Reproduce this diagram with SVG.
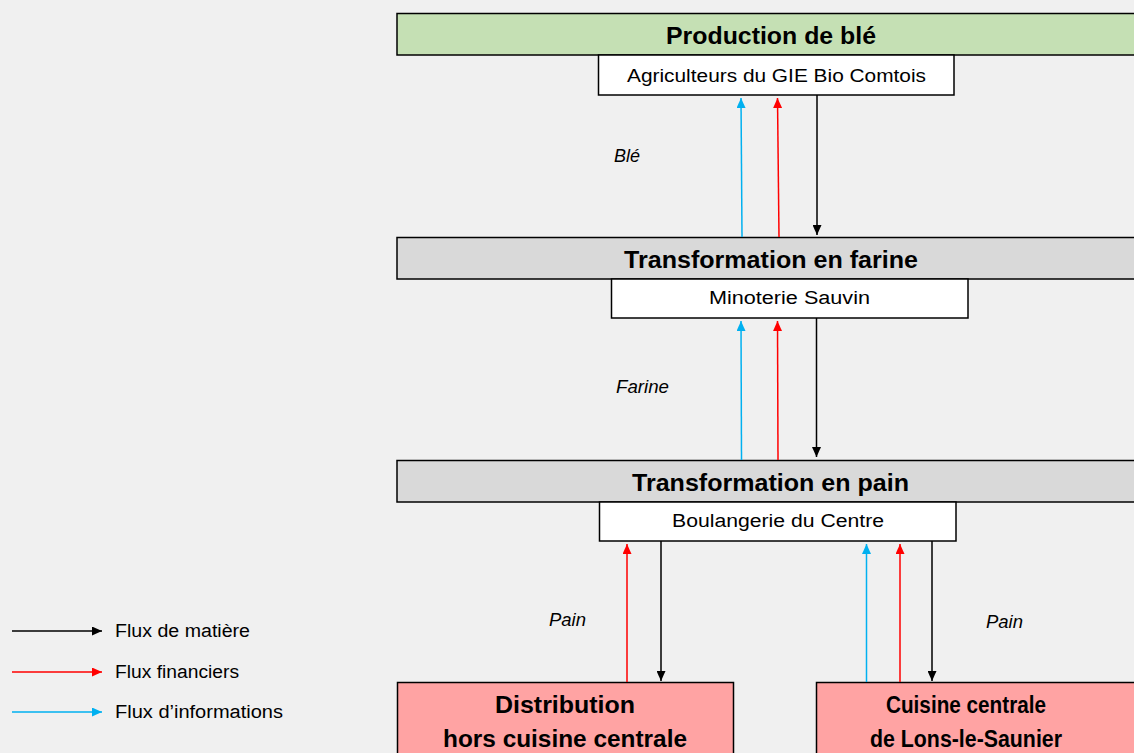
<svg xmlns="http://www.w3.org/2000/svg" width="1134" height="753" viewBox="0 0 1134 753">
<style>
.hdr{font-family:"Liberation Sans",Arial,sans-serif;font-weight:bold;font-size:23px;fill:#000;text-anchor:middle}
.sub{font-family:"Liberation Sans",Arial,sans-serif;font-size:18px;fill:#000;text-anchor:middle}
.lbl{font-family:"Liberation Sans",Arial,sans-serif;font-style:italic;font-size:18px;fill:#000}
.leg{font-family:"Liberation Sans",Arial,sans-serif;font-size:18px;fill:#000}
.box{stroke:#000;stroke-width:1.5}
.blk{stroke:#000;stroke-width:1.5;fill:none}
.red{stroke:#FF0000;stroke-width:1.5;fill:none}
.blu{stroke:#00B0F0;stroke-width:1.5;fill:none}
</style>
<defs>
<marker id="mb" viewBox="0 0 10 10" refX="10" refY="5" markerWidth="10" markerHeight="9" markerUnits="userSpaceOnUse" orient="auto" preserveAspectRatio="none"><path d="M0,0 L10,5 L0,10 Z" fill="#000"/></marker>
<marker id="mr" viewBox="0 0 10 10" refX="10" refY="5" markerWidth="10" markerHeight="9" markerUnits="userSpaceOnUse" orient="auto" preserveAspectRatio="none"><path d="M0,0 L10,5 L0,10 Z" fill="#FF0000"/></marker>
<marker id="mu" viewBox="0 0 10 10" refX="10" refY="5" markerWidth="10" markerHeight="9" markerUnits="userSpaceOnUse" orient="auto" preserveAspectRatio="none"><path d="M0,0 L10,5 L0,10 Z" fill="#00B0F0"/></marker>
</defs>
<rect width="1134" height="753" fill="#F0F0F0"/>

<g id="production">
<rect class="box" x="397" y="13.5" width="745" height="41.5" fill="#C5E0B4"/>
<text class="hdr" x="771" y="44" textLength="210" lengthAdjust="spacingAndGlyphs">Production de blé</text>
<rect class="box" x="598.5" y="55" width="355.5" height="40" fill="#FFFFFF"/>
<text class="sub" x="776.5" y="82" textLength="299" lengthAdjust="spacingAndGlyphs">Agriculteurs du GIE Bio Comtois</text>
</g>

<g id="farine">
<rect class="box" x="397" y="237.5" width="745" height="41.5" fill="#D9D9D9"/>
<text class="hdr" x="771" y="268" textLength="294" lengthAdjust="spacingAndGlyphs">Transformation en farine</text>
<rect class="box" x="611.5" y="279" width="356.5" height="39" fill="#FFFFFF"/>
<text class="sub" x="789.5" y="304" textLength="161" lengthAdjust="spacingAndGlyphs">Minoterie Sauvin</text>
</g>

<g id="pain">
<rect class="box" x="397" y="460.5" width="745" height="41.5" fill="#D9D9D9"/>
<text class="hdr" x="770.5" y="491" textLength="277" lengthAdjust="spacingAndGlyphs">Transformation en pain</text>
<rect class="box" x="599.5" y="502" width="356.5" height="39" fill="#FFFFFF"/>
<text class="sub" x="778" y="527" textLength="212" lengthAdjust="spacingAndGlyphs">Boulangerie du Centre</text>
</g>

<g id="distribution">
<rect class="box" x="397.5" y="682.5" width="336" height="80" fill="#FFA3A3"/>
<text class="hdr" x="565" y="713" textLength="140" lengthAdjust="spacingAndGlyphs">Distribution</text>
<text class="hdr" x="565" y="747" textLength="244" lengthAdjust="spacingAndGlyphs">hors cuisine centrale</text>
</g>

<g id="cuisine">
<rect class="box" x="816.5" y="682.5" width="330" height="80" fill="#FFA3A3"/>
<text class="hdr" x="966" y="713" textLength="160" lengthAdjust="spacingAndGlyphs">Cuisine centrale</text>
<text class="hdr" x="966" y="747" textLength="192" lengthAdjust="spacingAndGlyphs">de Lons-le-Saunier</text>
</g>

<g id="connectors">
<line class="blu" x1="742" y1="237" x2="741" y2="98" marker-end="url(#mu)"/>
<line class="red" x1="779" y1="237" x2="777.5" y2="98" marker-end="url(#mr)"/>
<line class="blk" x1="817" y1="95" x2="817" y2="235" marker-end="url(#mb)"/>

<line class="blu" x1="741.5" y1="460" x2="741" y2="321" marker-end="url(#mu)"/>
<line class="red" x1="778" y1="460" x2="777.5" y2="321" marker-end="url(#mr)"/>
<line class="blk" x1="816.5" y1="318" x2="816.5" y2="457" marker-end="url(#mb)"/>

<line class="red" x1="627" y1="682" x2="627" y2="544" marker-end="url(#mr)"/>
<line class="blk" x1="661" y1="541" x2="661" y2="681" marker-end="url(#mb)"/>
<line class="blu" x1="866.5" y1="682" x2="866.5" y2="544" marker-end="url(#mu)"/>
<line class="red" x1="900" y1="682" x2="900" y2="544" marker-end="url(#mr)"/>
<line class="blk" x1="932" y1="541" x2="932" y2="681" marker-end="url(#mb)"/>

<text class="lbl" x="614" y="162" textLength="26" lengthAdjust="spacingAndGlyphs">Blé</text>
<text class="lbl" x="616" y="393" textLength="53" lengthAdjust="spacingAndGlyphs">Farine</text>
<text class="lbl" x="549" y="626" textLength="37" lengthAdjust="spacingAndGlyphs">Pain</text>
<text class="lbl" x="986" y="628" textLength="37" lengthAdjust="spacingAndGlyphs">Pain</text>
</g>

<g id="legend">
<line class="blk" x1="12" y1="631" x2="102" y2="631" marker-end="url(#mb)"/>
<line class="red" x1="12" y1="672" x2="102" y2="672" marker-end="url(#mr)"/>
<line class="blu" x1="12" y1="712" x2="102" y2="712" marker-end="url(#mu)"/>
<text class="leg" x="115" y="637" textLength="135" lengthAdjust="spacingAndGlyphs">Flux de matière</text>
<text class="leg" x="115" y="678" textLength="124" lengthAdjust="spacingAndGlyphs">Flux financiers</text>
<text class="leg" x="115" y="718" textLength="168" lengthAdjust="spacingAndGlyphs">Flux d’informations</text>
</g>
</svg>
